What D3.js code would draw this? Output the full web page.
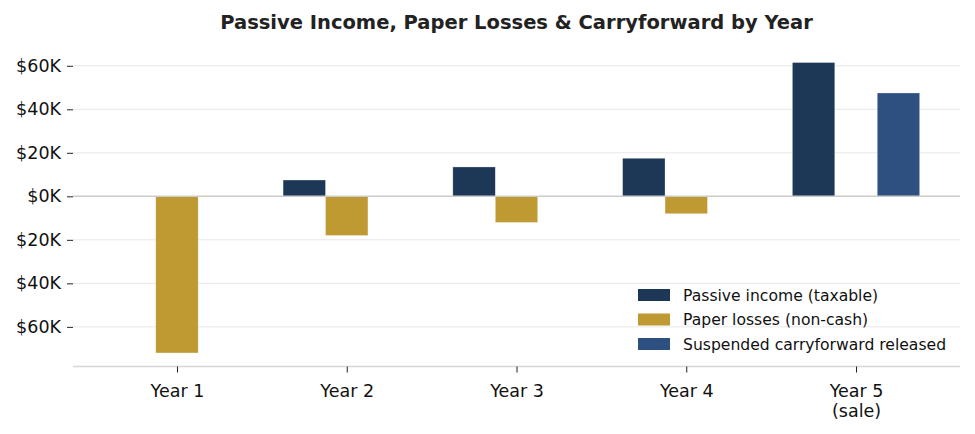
<!DOCTYPE html>
<html><head><meta charset="utf-8">
<script src="https://cdn.jsdelivr.net/npm/d3@7"></script>
<style>body{margin:0;background:#fff}svg{display:block;font-family:"DejaVu Sans",sans-serif}</style>
</head><body><svg id="c" width="975" height="434"></svg>
<script>
const categories = ["Year 1", "Year 2", "Year 3", "Year 4", "Year 5\n(sale)"];
const passiveIncome = [0, 7.5, 13.5, 17.5, 61.5];      // $K
const paperLosses = [-72, -18, -12, -8, 0];            // $K
const carryforward = [0, 0, 0, 0, 47.5];               // $K
const seriesNames = ["Passive income (taxable)", "Paper losses (non-cash)", "Suspended carryforward released"];
const seriesColors = ["#1d3857", "#bf9a33", "#2d5081"];
const yTicks = [-60, -40, -20, 0, 20, 40, 60];
const title = "Passive Income, Paper Losses & Carryforward by Year";

const svg = d3.select("#c");
const L = 73, R = 960, T = 48, B = 367.5, SPINE = 366.5;
const bw = 0.25, offsets = [-bw, 0, bw];
const series = [passiveIncome, paperLosses, carryforward];

const x = d3.scaleLinear().domain([-0.6125, categories.length - 1 + 0.6125]).range([L, R]);
const all = series.flat().concat([0]);
const mn = d3.min(all), mx = d3.max(all), pad = (mx - mn) * 0.05;
const y = d3.scaleLinear().domain([mn - pad, mx + pad]).range([B, T]);

// grid
svg.append("g").selectAll("line").data(yTicks.filter(d => d !== 0)).join("line")
  .attr("x1", L).attr("x2", R).attr("y1", d => y(d)).attr("y2", d => y(d))
  .attr("stroke", "#e8e8e8").attr("stroke-width", 1);

// y axis ticks (no spine)
const yAxis = d3.axisLeft(y).tickValues(yTicks).tickSize(6).tickPadding(6)
  .tickFormat(d => "$" + Math.abs(d) + "K");
const gy = svg.append("g").attr("transform", `translate(${L},0)`).call(yAxis);
gy.select(".domain").remove();
gy.selectAll(".tick line").attr("stroke", "#222");
gy.selectAll("text").attr("font-size", 17.5).attr("fill", "#111").attr("font-family", "DejaVu Sans");

// bars
series.forEach((vals, si) => {
  svg.append("g").selectAll("rect").data(vals.map((v, i) => ({v, i})).filter(d => d.v !== 0)).join("rect")
    .attr("x", d => x(d.i + offsets[si] - bw / 2))
    .attr("width", d => x(bw) - x(0))
    .attr("y", d => y(Math.max(0, d.v)))
    .attr("height", d => Math.abs(y(d.v) - y(0)))
    .attr("fill", seriesColors[si])
    .attr("stroke", "#ffffff").attr("stroke-opacity", 0.5).attr("stroke-width", 0.6);
});

// zero line
svg.append("line").attr("x1", L).attr("x2", R).attr("y1", y(0)).attr("y2", y(0))
  .attr("stroke", "#cccccc").attr("stroke-width", 1.5);

// x axis
const xAxis = d3.axisBottom(x).tickValues(d3.range(categories.length)).tickSize(6).tickPadding(6)
  .tickFormat(() => "");
const gx = svg.append("g").attr("transform", `translate(0,${SPINE})`).call(xAxis);
gx.select(".domain").attr("stroke", "#d6d6d6").attr("stroke-width", 1.3).attr("d", `M${L},0H${R}`);
gx.selectAll(".tick line").attr("stroke", "#222");
gx.selectAll(".tick").each(function(d) {
  const lines = categories[d].split("\n");
  const t = d3.select(this).append("text").attr("fill", "#111").attr("font-size", 17.5)
    .attr("font-family", "DejaVu Sans").attr("text-anchor", "middle").attr("y", 30);
  lines.forEach((ln, k) => t.append("tspan").attr("x", 0).attr("dy", k === 0 ? 0 : 20).text(ln));
});

// title
svg.append("text").attr("x", (L + R) / 2).attr("y", 29).attr("text-anchor", "middle")
  .attr("font-size", 19.5).attr("font-weight", "bold").attr("fill", "#222").text(title);

// legend
const lg = svg.append("g").attr("transform", "translate(638,289)");
seriesNames.forEach((n, i) => {
  const g = lg.append("g").attr("transform", `translate(0,${i * 24.5})`);
  g.append("rect").attr("width", 32).attr("height", 12).attr("fill", seriesColors[i]);
  g.append("text").attr("x", 45).attr("y", 11.5).attr("font-size", 15.6).attr("fill", "#111").text(n);
});
</script></body></html>
